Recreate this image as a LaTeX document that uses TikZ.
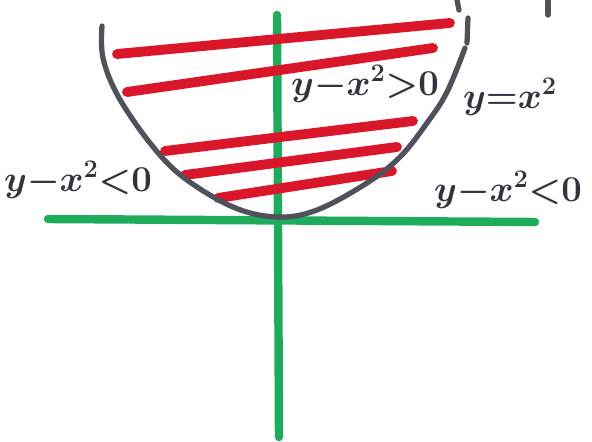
\documentclass[tikz,border=0pt]{standalone}
\usepackage{amsmath}
\definecolor{axisgreen}{RGB}{30,172,92}
\definecolor{hatchred}{RGB}{218,22,42}
\definecolor{ink}{RGB}{48,52,62}
\begin{document}
\begin{tikzpicture}[line join=round, line cap=round, x=0.02cm, y=-0.02cm]
		\tikzset{axisline/.style={axisgreen, line width=4.8pt},
			hatch/.style={hatchred, line width=5.6pt},
			curve/.style={ink!85, line width=3pt},
			lbl/.style={ink, inner sep=0pt, font=\fontsize{21}{24}\selectfont\boldmath}}
		\useasboundingbox (0,0) rectangle (592,442);
		% axes
		\draw[axisline] (48,219)--(535,222);
		\draw[axisline] (277,15)--(279,437);
		% region y - x^2 > 0
		\draw[hatch] (117,54)--(450,23);
		\draw[hatch] (127,92)--(433,48);
		\draw[hatch] (165,151)--(413,121);
		\draw[hatch] (185,175)--(397,147);
		\draw[hatch] (218,198)--(392,171);
		% the parabola
		\draw[curve] plot[smooth, tension=0.6] coordinates {(102,26) (103,58) (118,96) (150,143) (183,177) (233,207) (277,217) (317,210) (367,183) (400,157) (427,123) (447,92) (465,48)};
		\draw[curve] (468,18)--(467,43);
		\draw[curve] (457,0)--(459,10);
		\draw[curve] (548,0)--(548,15);
		% labels
		\node[lbl] (inside) at (365,84) {$y{-}x^2{>}0$};
		\node[lbl] (eqn) at (510,97) {$y{=}x^2$};
		\node[lbl] (leftout) at (78,180) {$y{-}x^2{<}0$};
		\node[lbl] (rightout) at (508,190) {$y{-}x^2{<}0$};
	\end{tikzpicture}
\end{document}
